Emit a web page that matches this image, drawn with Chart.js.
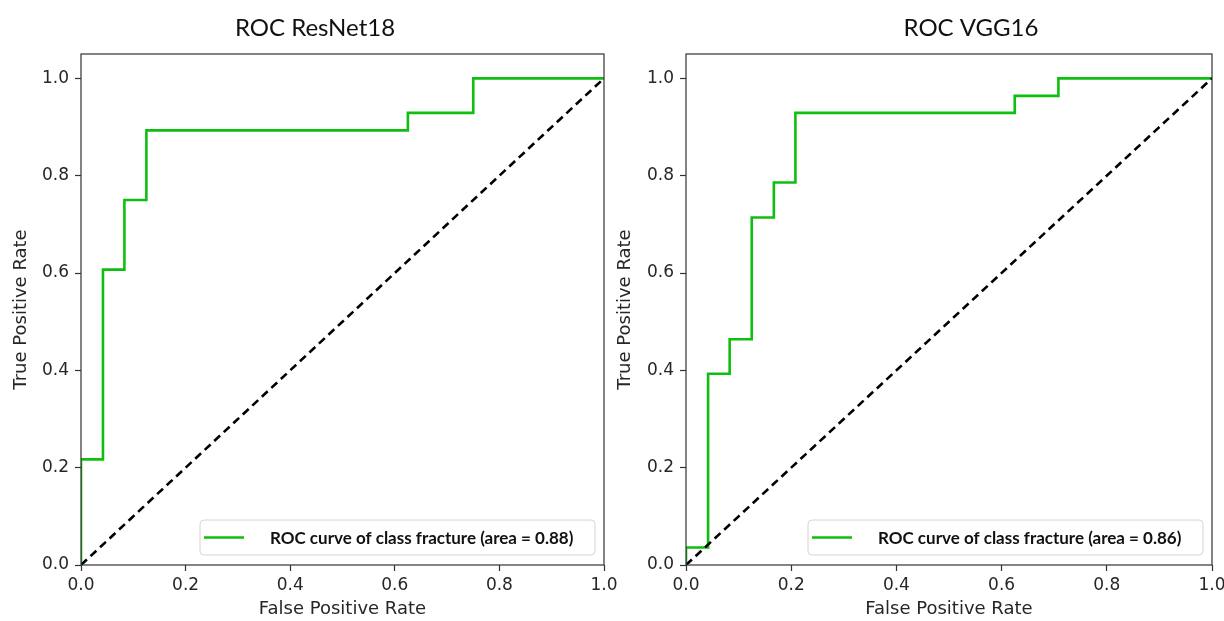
<!DOCTYPE html>
<html>
<head>
<meta charset="utf-8">
<title>ROC curves</title>
<script src="https://cdn.jsdelivr.net/npm/chart.js@4.4.1/dist/chart.umd.min.js"></script>
<style>
html, body { margin: 0; padding: 0; background: #fff; overflow: hidden; }
#wrap { position: relative; width: 1224px; height: 621px; overflow: hidden; }
canvas { position: absolute; top: 0; }
#roc-left { left: 0; }
#roc-right { left: 612px; }
</style>
</head>
<body>
<div id="wrap">
  <canvas id="roc-left" width="640" height="621"></canvas>
  <canvas id="roc-right" width="640" height="621"></canvas>
</div>
<script>
// tick values shared by both panels
const xTickValues = [0, 0.2, 0.4, 0.6, 0.8, 1.0];
const yTickValues = [0, 0.2, 0.4, 0.6, 0.8, 1.0];

// ResNet18 ROC corners (false / true positive rate)
const resnetFpr = [0, 0, 0.042, 0.042, 0.083, 0.083, 0.125, 0.125, 0.625, 0.625, 0.75, 0.75, 1.0];
const resnetTpr = [0, 0.217, 0.217, 0.607, 0.607, 0.75, 0.75, 0.893, 0.893, 0.929, 0.929, 1.0, 1.0];
const resnetAuc = 0.88;

// VGG16 ROC corners
const vggFpr = [0, 0, 0.042, 0.042, 0.083, 0.083, 0.125, 0.125, 0.167, 0.167, 0.208, 0.208, 0.625, 0.625, 0.708, 0.708, 1.0];
const vggTpr = [0, 0.036, 0.036, 0.393, 0.393, 0.464, 0.464, 0.714, 0.714, 0.786, 0.786, 0.929, 0.929, 0.964, 0.964, 1.0, 1.0];
const vggAuc = 0.86;

// chance line
const chanceX = [0, 1];
const chanceY = [0, 1];

const GREEN = '#0fbf0f';
const INK = '#262626';

Chart.defaults.font.family = 'DejaVu Sans';
Chart.defaults.color = INK;

// plot title (placed like the figure's own text boxes)
const rocTitle = {
    id: 'rocTitle',
    afterDraw(chart, args, opts) {
        const ctx = chart.ctx;
        ctx.save();
        ctx.font = '24px Lato';
        ctx.fillStyle = '#111';
        ctx.textAlign = 'center';
        ctx.textBaseline = 'middle';
        ctx.fillText(opts.text, opts.x, 28);
        ctx.restore();
    }
};

// matplotlib-like box round the axes
const frame = {
    id: 'frame',
    afterDatasetsDraw(chart) {
        const {ctx, chartArea: a} = chart;
        ctx.save();
        ctx.strokeStyle = '#333';
        ctx.lineWidth = 1.2;
        ctx.strokeRect(a.left, a.top, a.right - a.left, a.bottom - a.top);
        ctx.restore();
    }
};

// legend box in the lower right corner
const rocLegend = {
    id: 'rocLegend',
    afterDraw(chart) {
        const {ctx, chartArea} = chart;
        const ds = chart.data.datasets.find(d => d.label);
        const boxW = 395, boxH = 35;
        const right = chartArea.right - 9;
        const bottom = chartArea.bottom - 10;
        const left = right - boxW;
        const top = bottom - boxH;
        const midY = top + boxH / 2;

        ctx.save();
        ctx.beginPath();
        ctx.roundRect(left, top, boxW, boxH, 4);
        ctx.fillStyle = 'rgba(255,255,255,0.85)';
        ctx.fill();
        ctx.strokeStyle = '#d4d4d4';
        ctx.lineWidth = 1;
        ctx.stroke();

        ctx.strokeStyle = ds.borderColor;
        ctx.lineWidth = ds.borderWidth;
        ctx.beginPath();
        ctx.moveTo(left + 4, midY);
        ctx.lineTo(left + 44, midY);
        ctx.stroke();

        let size = 17;
        ctx.font = `bold ${size}px Lato`;
        while (ctx.measureText(ds.label).width > 308 && size > 10) {
            size -= 0.5;
            ctx.font = `bold ${size}px Lato`;
        }
        ctx.fillStyle = '#111';
        ctx.textAlign = 'left';
        ctx.textBaseline = 'middle';
        ctx.fillText(ds.label, left + 70, midY + 1);
        ctx.restore();
    }
};

function makeRocChart(id, title, titleX, fpr, tpr, auc, yAxisWidth, padRight, yTitlePad) {
    const canvas = document.getElementById(id);
    return new Chart(canvas, {
        type: 'scatter',
        data: {
            datasets: [{
                label: `ROC curve of class fracture (area = ${auc.toFixed(2)})`,
                data: fpr.map((x, i) => ({x: x, y: tpr[i]})),
                showLine: true,
                borderColor: GREEN,
                borderWidth: 2.6,
                pointRadius: 0,
                order: 1
            }, {
                data: chanceX.map((x, i) => ({x: x, y: chanceY[i]})),
                showLine: true,
                borderColor: '#000',
                borderWidth: 2.6,
                borderDash: [8, 5],
                pointRadius: 0,
                order: 0
            }]
        },
        options: {
            responsive: false,
            animation: false,
            layout: { padding: { top: 54, left: 0, right: padRight, bottom: 0 } },
            plugins: {
                legend: { display: false },
                tooltip: { enabled: false },
                rocTitle: { text: title, x: titleX }
            },
            scales: {
                x: {
                    type: 'linear',
                    min: 0,
                    max: 1,
                    afterBuildTicks: s => { s.ticks = xTickValues.map(v => ({value: v})); },
                    afterFit: s => { s.height = 56; },
                    border: { display: false },
                    grid: { drawOnChartArea: false, drawTicks: true, tickLength: 6, tickColor: '#333', tickWidth: 1.2 },
                    ticks: { font: { size: 17 }, padding: 4, maxRotation: 0, callback: v => v.toFixed(1) },
                    title: { display: true, text: 'False Positive Rate', font: { size: 18 }, padding: { top: 0, bottom: 1 } }
                },
                y: {
                    type: 'linear',
                    min: 0,
                    max: 1.05,
                    afterBuildTicks: s => { s.ticks = yTickValues.map(v => ({value: v})); },
                    afterFit: s => { s.width = yAxisWidth; },
                    border: { display: false },
                    grid: { drawOnChartArea: false, drawTicks: true, tickLength: 6, tickColor: '#333', tickWidth: 1.2 },
                    ticks: { font: { size: 17 }, padding: 6, callback: v => v.toFixed(1) },
                    title: { display: true, text: 'True Positive Rate', font: { size: 18 }, padding: { top: yTitlePad, bottom: 0 } }
                }
            }
        },
        plugins: [rocTitle, frame, rocLegend]
    });
}

makeRocChart('roc-left', 'ROC ResNet18', 315, resnetFpr, resnetTpr, resnetAuc, 81, 36, 11);
makeRocChart('roc-right', 'ROC VGG16', 359, vggFpr, vggTpr, vggAuc, 74, 40, 3);
</script>
</body>
</html>
